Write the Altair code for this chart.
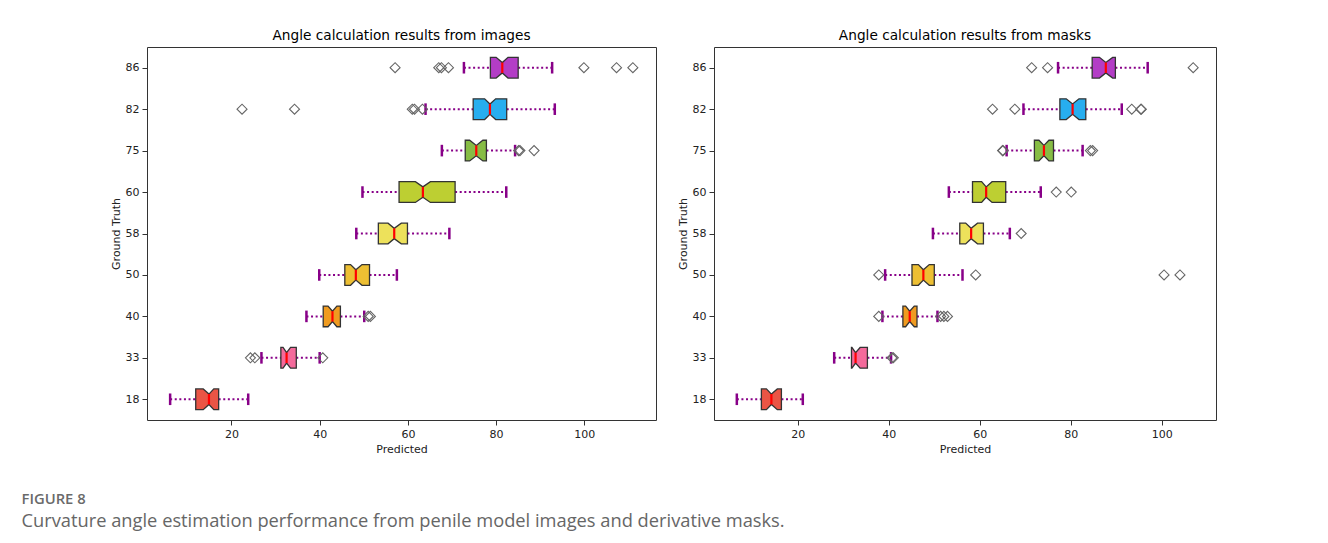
import altair as alt
import pandas as pd

# ---- data ----
categories = [18, 33, 40, 50, 58, 60, 75, 82, 86]
box_colors = ["#ea5545", "#f46a9b", "#ef9b20", "#edbf33", "#ede15b",
              "#bdcf32", "#87bc45", "#27aeef", "#b33dc6"]

# images panel
img_whisker_lo = [6.1, 26.8, 37.0, 39.9, 48.3, 49.7, 67.7, 64.0, 72.7]
img_q1 = [11.9, 31.2, 40.8, 45.7, 53.3, 58.0, 73.0, 74.8, 78.7]
img_notch_lo = [13.6, 31.7, 41.9, 47.0, 55.5, 61.7, 74.0, 77.4, 80.0]
img_median = [14.9, 32.5, 42.9, 48.2, 56.9, 63.4, 75.5, 78.6, 81.4]
img_notch_hi = [16.0, 33.4, 43.9, 49.6, 58.5, 65.1, 77.0, 79.9, 82.7]
img_q3 = [17.1, 34.7, 44.7, 51.3, 59.9, 70.7, 77.8, 82.4, 85.0]
img_whisker_hi = [23.8, 40.0, 50.1, 57.5, 69.4, 82.3, 84.3, 93.3, 92.7]
img_outliers = [
    [],
    [24.3, 25.3, 40.7],
    [51.0, 51.5],
    [],
    [],
    [],
    [85.1, 85.4, 88.6],
    [22.4, 34.3, 61.0, 61.5, 63.3],
    [57.1, 67.0, 67.6, 69.2, 99.9, 107.3, 111.0],
]

# masks panel
msk_whisker_lo = [6.6, 28.0, 38.6, 39.2, 49.7, 53.2, 65.9, 69.6, 77.2]
msk_q1 = [12.0, 31.8, 43.1, 45.1, 55.6, 58.4, 72.0, 77.6, 84.7]
msk_notch_lo = [13.1, 31.9, 43.7, 46.5, 56.9, 60.4, 73.0, 79.0, 86.3]
msk_median = [14.2, 32.7, 44.6, 47.6, 58.1, 61.4, 74.1, 80.4, 87.7]
msk_notch_hi = [15.5, 33.7, 45.6, 48.9, 59.5, 62.7, 75.2, 81.8, 89.2]
msk_q3 = [16.4, 35.3, 46.2, 50.0, 60.8, 65.7, 76.2, 83.3, 89.8]
msk_whisker_hi = [21.1, 40.5, 50.7, 56.2, 66.6, 73.4, 82.6, 91.2, 96.9]
msk_outliers = [
    [],
    [40.7, 41.0],
    [37.8, 51.4, 52.1, 52.9],
    [37.8, 59.1, 100.5, 104.0],
    [69.1],
    [76.8, 80.1],
    [65.0, 65.1, 84.3, 84.8],
    [62.8, 67.7, 93.4, 95.4, 95.5],
    [71.4, 74.9, 106.9],
]

tick_values = [20, 40, 60, 80, 100]

FONT = "DejaVu Sans"
BOX_HALF = 0.25
CAP_HALF = 0.14
WHISKER_COLOR = "#880088"


def panel(title, wlo, q1, nlo, med, nhi, q3, whi, outliers, width):
    n = len(categories)
    stats = pd.DataFrame({
        "pos": list(range(n)), "cat": categories, "fillc": box_colors,
        "wlo": wlo, "q1": q1, "med": med, "q3": q3, "whi": whi,
    })
    stats["cap_lo"] = stats["pos"] - CAP_HALF
    stats["cap_hi"] = stats["pos"] + CAP_HALF
    stats["med_lo"] = stats["pos"] - BOX_HALF / 2
    stats["med_hi"] = stats["pos"] + BOX_HALF / 2

    rows = []
    for i in range(n):
        pts = [(q1[i], 1.0), (max(nlo[i], q1[i]), 1.0), (med[i], 0.5),
               (min(nhi[i], q3[i]), 1.0), (q3[i], 1.0)]
        for k, (xv, f) in enumerate(pts):
            rows.append({"box": "b%d" % i, "x": xv, "fillc": box_colors[i],
                         "ylo": i - BOX_HALF * f, "yhi": i + BOX_HALF * f})
    boxes = pd.DataFrame(rows)

    orow = []
    for i in range(n):
        for v in outliers[i]:
            orow.append({"pos": i, "x": v})
    outs = pd.DataFrame(orow)

    all_vals = wlo + whi + [v for o in outliers for v in o]
    lo, hi = min(all_vals), max(all_vals)
    m = 0.05 * (hi - lo)
    xscale = alt.Scale(domain=[lo - m, hi + m], nice=False, zero=False)
    yscale = alt.Scale(domain=[-0.5, n - 0.5], nice=False, zero=False)
    label_expr = "[" + ",".join("'%s'" % c for c in categories) + "][datum.value]"

    xaxis = alt.Axis(values=tick_values, title="Predicted", grid=False)
    yaxis = alt.Axis(values=list(range(n)), labelExpr=label_expr,
                     title="Ground Truth", grid=False)

    base = alt.Chart(stats)
    wl = base.mark_rule(color=WHISKER_COLOR, strokeWidth=2, strokeDash=[2, 2.6]).encode(
        x=alt.X("wlo:Q", scale=xscale, axis=xaxis), x2="q1:Q",
        y=alt.Y("pos:Q", scale=yscale, axis=yaxis))
    wh = base.mark_rule(color=WHISKER_COLOR, strokeWidth=2, strokeDash=[2, 2.6]).encode(
        x=alt.X("q3:Q", scale=xscale), x2="whi:Q", y=alt.Y("pos:Q", scale=yscale))
    cl = base.mark_rule(color=WHISKER_COLOR, strokeWidth=2.5).encode(
        x=alt.X("wlo:Q", scale=xscale), y=alt.Y("cap_lo:Q", scale=yscale), y2="cap_hi:Q")
    ch = base.mark_rule(color=WHISKER_COLOR, strokeWidth=2.5).encode(
        x=alt.X("whi:Q", scale=xscale), y=alt.Y("cap_lo:Q", scale=yscale), y2="cap_hi:Q")
    box = alt.Chart(boxes).mark_area(orient="vertical", stroke="#333333",
                                     strokeWidth=1.3).encode(
        x=alt.X("x:Q", scale=xscale), y=alt.Y("ylo:Q", scale=yscale), y2="yhi:Q",
        fill=alt.Fill("fillc:N", scale=None), detail="box:N")
    md = base.mark_rule(color="#ff0000", strokeWidth=2.2).encode(
        x=alt.X("med:Q", scale=xscale), y=alt.Y("med_lo:Q", scale=yscale), y2="med_hi:Q")
    layers = [wl, wh, cl, ch, box, md]
    if len(outs):
        op = alt.Chart(outs).mark_point(shape="diamond", filled=False, size=100,
                                        stroke="#666666", strokeWidth=1.1, opacity=1).encode(
            x=alt.X("x:Q", scale=xscale), y=alt.Y("pos:Q", scale=yscale))
        layers.append(op)
    return alt.layer(*layers).properties(
        width=width, height=373,
        title=alt.TitleParams(title, fontSize=13.7, fontWeight="normal",
                              font=FONT, color="#000000", offset=4))


left = panel("Angle calculation results from images", img_whisker_lo, img_q1,
             img_notch_lo, img_median, img_notch_hi, img_q3, img_whisker_hi,
             img_outliers, 509)
right = panel("Angle calculation results from masks", msk_whisker_lo, msk_q1,
              msk_notch_lo, msk_median, msk_notch_hi, msk_q3, msk_whisker_hi,
              msk_outliers, 502)

chart = alt.hconcat(left, right, spacing=19).properties(
    padding={"left": 13, "top": 20, "right": 5, "bottom": 5},
    title=alt.TitleParams(
        "FIGURE 8",
        subtitle=["Curvature angle estimation performance from penile model images and derivative masks."],
        orient="bottom", anchor="start", dx=-88, offset=37,
        font="Open Sans", fontSize=14.8, fontWeight=600, color="#6a6a6a",
        subtitleFont="Open Sans", subtitleFontSize=18.3, subtitleColor="#666666",
        subtitlePadding=7),
).configure(background="white").configure_view(
    stroke="#333333", strokeWidth=1).configure_axis(
    domain=False, labelFont=FONT, titleFont=FONT, labelFontSize=11,
    titleFontSize=11, titleFontWeight="normal", labelColor="#222222",
    titleColor="#222222", tickColor="#333333", tickSize=5, labelPadding=3,
    titlePadding=4)

chart.save("out.html", embed_options={"renderer": "svg", "actions": False})
